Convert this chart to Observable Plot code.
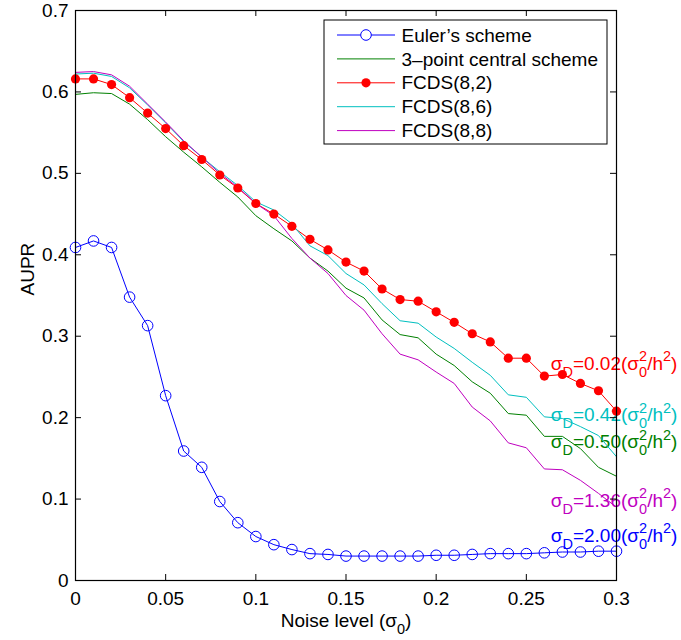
<!DOCTYPE html>
<html><head><meta charset="utf-8">
<script src="https://cdn.jsdelivr.net/npm/d3@7"></script>
<script src="https://cdn.jsdelivr.net/npm/@observablehq/plot@0.6"></script>
<style>html,body{margin:0;padding:0;background:#fff}svg{display:block}</style>
</head><body><div id="chart"></div>
<script>
// ---- data ----
const noise = [0,0.01,0.02,0.03,0.04,0.05,0.06,0.07,0.08,0.09,0.10,0.11,0.12,0.13,0.14,0.15,0.16,0.17,0.18,0.19,0.20,0.21,0.22,0.23,0.24,0.25,0.26,0.27,0.28,0.29,0.30];
const euler    = [0.409,0.417,0.409,0.348,0.313,0.227,0.159,0.139,0.097,0.071,0.054,0.044,0.038,0.033,0.032,0.030,0.030,0.030,0.030,0.030,0.031,0.031,0.032,0.033,0.033,0.033,0.034,0.035,0.035,0.036,0.036];
const central3 = [0.597,0.599,0.598,0.585,0.566,0.545,0.526,0.508,0.489,0.471,0.448,0.432,0.417,0.396,0.380,0.359,0.347,0.320,0.302,0.298,0.278,0.264,0.244,0.230,0.205,0.203,0.177,0.177,0.162,0.139,0.128];
const fcds82   = [0.616,0.616,0.609,0.593,0.574,0.555,0.534,0.517,0.498,0.482,0.463,0.450,0.435,0.419,0.406,0.391,0.380,0.358,0.345,0.343,0.330,0.317,0.303,0.293,0.273,0.273,0.251,0.253,0.242,0.233,0.208];
const fcds86   = [0.622,0.623,0.619,0.605,0.584,0.562,0.539,0.520,0.502,0.485,0.465,0.455,0.438,0.411,0.399,0.377,0.363,0.340,0.319,0.316,0.299,0.285,0.268,0.252,0.228,0.225,0.201,0.199,0.189,0.178,0.152];
const fcds88   = [0.624,0.625,0.621,0.607,0.585,0.563,0.540,0.520,0.500,0.483,0.463,0.448,0.420,0.396,0.377,0.350,0.332,0.303,0.278,0.271,0.256,0.242,0.213,0.196,0.169,0.163,0.137,0.136,0.123,0.107,0.090];
const seriesNames = ["Euler’s scheme","3–point central scheme","FCDS(8,2)","FCDS(8,6)","FCDS(8,8)"];
const seriesValues = [euler, central3, fcds82, fcds86, fcds88];
const seriesColors = ["#0000ff","#008000","#ff0000","#00bfbf","#bf00bf"];
const seriesMarkers = ["open","none","filled","none","none"];
const xTicks = [0,0.05,0.1,0.15,0.2,0.25,0.3];
const xTickLabels = ["0","0.05","0.1","0.15","0.2","0.25","0.3"];
const yTicks = [0,0.1,0.2,0.3,0.4,0.5,0.6,0.7];
const yTickLabels = ["0","0.1","0.2","0.3","0.4","0.5","0.6","0.7"];
const annotations = [
  {text:"σ_D=0.02(σ_0^2/h^2)", x:0.2635, y:0.266, series:2},
  {text:"σ_D=0.42(σ_0^2/h^2)", x:0.2635, y:0.203, series:3},
  {text:"σ_D=0.50(σ_0^2/h^2)", x:0.2635, y:0.170, series:1},
  {text:"σ_D=1.36(σ_0^2/h^2)", x:0.2635, y:0.098, series:4},
  {text:"σ_D=2.00(σ_0^2/h^2)", x:0.2635, y:0.055, series:0}
];
const xLabel = "Noise level (σ_0)";
const yLabel = "AUPR";

// ---- layout ----
const W = 681, H = 640, mL = 75, mR = 65, mT = 10, mB = 60;
const plotW = W - mL - mR, plotH = H - mT - mB;
const FS = 19, FS_SMALL = 14.5, TICK = 6;
const FONT = "'Liberation Sans', Arial, Helvetica, sans-serif";

const rows = [];
seriesNames.forEach((name, i) => noise.forEach((x, j) => rows.push({s: i, x, y: seriesValues[i][j]})));
const bySeries = i => rows.filter(d => d.s === i);

const marks = [
  Plot.text(annotations, {x: "x", y: "y", text: "text", fill: d => seriesColors[d.series], textAnchor: "start", fontSize: FS})
];
seriesNames.forEach((n, i) => {
  marks.push(Plot.line(bySeries(i), {x: "x", y: "y", stroke: seriesColors[i], strokeWidth: 1}));
});
seriesNames.forEach((n, i) => {
  if (seriesMarkers[i] === "open") marks.push(Plot.dot(bySeries(i), {x: "x", y: "y", r: 5.3, stroke: seriesColors[i], fill: "none", strokeWidth: 1}));
  if (seriesMarkers[i] === "filled") marks.push(Plot.dot(bySeries(i), {x: "x", y: "y", r: 4.6, fill: seriesColors[i], stroke: "none"}));
});
marks.push(
  Plot.frame({stroke: "#000", strokeWidth: 1.2}),
  Plot.tickX(xTicks, {x: d => d, insetTop: plotH - TICK, stroke: "#000"}),
  Plot.tickX(xTicks, {x: d => d, insetBottom: plotH - TICK, stroke: "#000"}),
  Plot.tickY(yTicks, {y: d => d, insetRight: plotW - TICK, stroke: "#000"}),
  Plot.tickY(yTicks, {y: d => d, insetLeft: plotW - TICK, stroke: "#000"}),
  Plot.axisX(xTicks, {tickSize: 0, tickPadding: 11, tickFormat: d => xTickLabels[xTicks.indexOf(d)], fontSize: FS, label: null}),
  Plot.axisY(yTicks, {tickSize: 0, tickPadding: 7, tickFormat: d => yTickLabels[yTicks.indexOf(d)], fontSize: FS, label: null}),
  Plot.text([xLabel], {frameAnchor: "bottom", dy: 33, lineAnchor: "top", fontSize: FS, fill: "#000"}),
  Plot.text([yLabel], {frameAnchor: "left", dx: -48, rotate: -90, fontSize: FS, fill: "#000"})
);

const svg = Plot.plot({
  width: W, height: H, marginLeft: mL, marginRight: mR, marginTop: mT, marginBottom: mB,
  x: {domain: [0, 0.3]}, y: {domain: [0, 0.7]},
  style: {fontFamily: FONT, fontSize: FS + "px", color: "#000", background: "#fff", overflow: "visible"},
  marks
});

// ---- rich text (sub/superscripts) ----
const NS = "http://www.w3.org/2000/svg";
function richify(el) {
  const s = el.textContent;
  if (!/[_^]/.test(s)) return;
  const segs = [];
  for (let i = 0; i < s.length; i++) {
    const c = s[i];
    if ((c === "_" || c === "^") && i + 1 < s.length) { segs.push({t: s[i + 1], k: c === "_" ? "sub" : "sup"}); i++; }
    else if (segs.length && segs[segs.length - 1].k === "n") segs[segs.length - 1].t += c;
    else segs.push({t: c, k: "n"});
  }
  while (el.firstChild) el.removeChild(el.firstChild);
  let shift = 0, prev = null;
  const target = {n: 0, sub: 0.38 * FS, sup: -0.45 * FS};
  for (const seg of segs) {
    const ts = document.createElementNS(NS, "tspan");
    ts.textContent = seg.t;
    const t = target[seg.k];
    ts.setAttribute("dy", (t - shift).toFixed(2));
    shift = t;
    if (seg.k !== "n") ts.setAttribute("font-size", FS_SMALL);
    if (prev && prev.k !== "n" && seg.k !== "n" && prev.k !== seg.k) ts.setAttribute("dx", (-0.556 * FS_SMALL * prev.t.length).toFixed(2));
    el.appendChild(ts);
    prev = seg;
  }
}
svg.querySelectorAll("text").forEach(richify);

// ---- legend (inside plot, upper right) ----
const lg = d3.select(svg).append("g").attr("font-family", FONT).attr("font-size", FS).attr("text-anchor", "start");
const boxR = W - mR - 9, boxL = 324, boxT = mT + 10, rowH = 23.9, boxH = 124;
lg.append("rect").attr("x", boxL).attr("y", boxT).attr("width", boxR - boxL).attr("height", boxH)
  .attr("fill", "#fff").attr("stroke", "#000").attr("stroke-width", 1);
seriesNames.forEach((name, i) => {
  const cy = boxT + 15 + i * rowH;
  const x0 = boxL + 13, x1 = boxL + 71, xm = (x0 + x1) / 2;
  lg.append("line").attr("x1", x0).attr("x2", x1).attr("y1", cy).attr("y2", cy).attr("stroke", seriesColors[i]).attr("stroke-width", 1);
  if (seriesMarkers[i] === "open") lg.append("circle").attr("cx", xm).attr("cy", cy).attr("r", 5.3).attr("fill", "#fff").attr("stroke", seriesColors[i]);
  if (seriesMarkers[i] === "filled") lg.append("circle").attr("cx", xm).attr("cy", cy).attr("r", 4.6).attr("fill", seriesColors[i]);
  lg.append("text").attr("x", x1 + 6.5).attr("y", cy).attr("dy", "0.35em").attr("fill", "#000").attr("text-anchor", "start").text(name);
});

document.getElementById("chart").appendChild(svg);
</script>
</body></html>
